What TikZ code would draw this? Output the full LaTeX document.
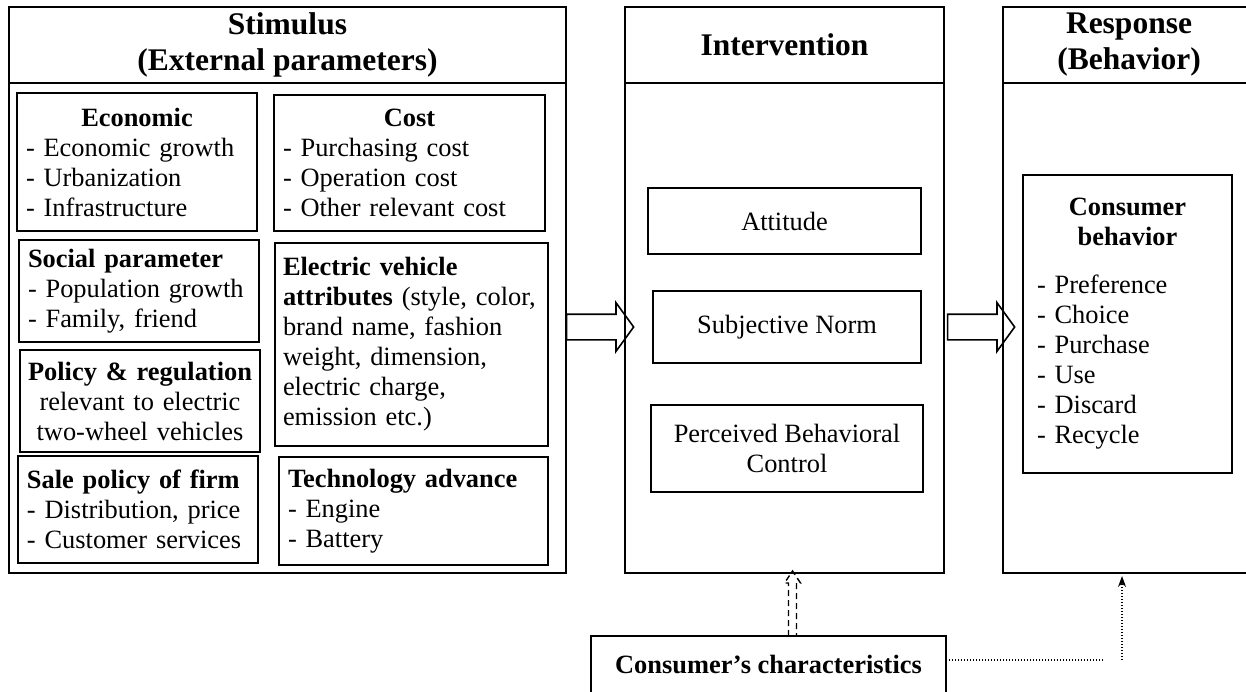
\documentclass[tikz,border=0pt]{standalone}
\usepackage{fontspec}
\setmainfont{Liberation Serif}
\usetikzlibrary{positioning, shapes.arrows, calc, arrows.meta}
\tikzstyle{stagebox} = [rectangle, draw=black, line width=2.6pt, inner sep=0pt, outer sep=0pt]
\tikzstyle{boxtitle} = [font=\fontsize{31.5}{36}\selectfont\bfseries, align=center]
\tikzstyle{factorbox} = [rectangle, draw=black, line width=1.6pt, inner xsep=9pt, inner ysep=0pt, align=left]
\tikzstyle{construct} = [rectangle, draw=black, line width=1.6pt, inner sep=0pt, align=center]
\tikzstyle{blockarrow} = [single arrow, draw=black, line width=1.6pt, inner sep=0pt, minimum height=67pt, single arrow head extend=11.5pt, single arrow tip angle=108]
\tikzstyle{dashline} = [line width=1.4pt, dash pattern=on 6pt off 4pt]
\tikzstyle{dotline} = [line width=1.4pt, dash pattern=on 1.4pt off 1.6pt]
\tikzstyle{every node}=[font=\fontsize{26.4}{30}\selectfont]
\newcommand{\midline}[1]{\leavevmode\hskip 0pt plus 1filll #1\hskip 0pt plus 1filll\null}

\begin{document}
\begin{tikzpicture}[x=1pt, y=-1pt]
	\path[fill=white, use as bounding box] (0,0) rectangle (1246,691);
	% stimulus
	\node (stim) [stagebox, minimum width=557pt, minimum height=566pt] at (287.5,290) {};
	\node (stimhead) [stagebox, boxtitle, minimum width=557pt, minimum height=76pt, anchor=north] at (stim.north) {Stimulus\\(External parameters)};
	\node (econ) [factorbox, text width=222pt, minimum height=138pt] at (137,162) {\midline{\textbf{Economic}}\\- Economic growth\\- Urbanization\\- Infrastructure};
	\node (cost) [factorbox, text width=253pt, minimum height=136pt] at (409.5,163) {\midline{\textbf{Cost}}\\- Purchasing cost\\- Operation cost\\- Other relevant cost};
	\node (social) [factorbox, text width=222pt, minimum height=102pt] at (139,291) {\textbf{Social parameter}\\- Population growth\\- Family, friend};
	\node (evattr) [factorbox, inner xsep=8pt, text width=257pt, minimum height=203pt] at (411.5,344.5) {\textbf{Electric vehicle}\\\textbf{attributes} (style, color,\\brand name, fashion\\weight, dimension,\\electric charge,\\emission etc.)};
	\node (policy) [factorbox, align=center, inner xsep=4pt, text width=232pt, minimum height=102pt] at (140,401) {\textbf{Policy \& regulation}\\relevant to electric\\two-wheel vehicles};
	\node (sale) [factorbox, text width=222pt, minimum height=107pt] at (138,509.5) {\textbf{Sale policy of firm}\\- Distribution, price\\- Customer services};
	\node (tech) [factorbox, text width=251pt, minimum height=108pt] at (413.5,511) {\textbf{Technology advance}\\- Engine\\- Battery};
	% intervention
	\node (inter) [stagebox, minimum width=319pt, minimum height=566pt] at (784.5,290) {};
	\node (interhead) [stagebox, boxtitle, minimum width=319pt, minimum height=76pt, anchor=north] at (inter.north) {Intervention};
	\node (att) [construct, minimum width=273pt, minimum height=66pt] at (784.5,221) {Attitude};
	\node (subj) [construct, minimum width=268pt, minimum height=72pt] at (787,327) {Subjective Norm};
	\node (pbc) [construct, minimum width=272pt, minimum height=87pt] at (787,448.5) {Perceived Behavioral\\Control};
	% response
	\node (resp) [stagebox, minimum width=252pt, minimum height=566pt] at (1129,290) {};
	\node (resphead) [stagebox, boxtitle, minimum width=252pt, minimum height=76pt, anchor=north] at (resp.north) {Response\\(Behavior)};
	\node (cbeh) [factorbox, inner xsep=14pt, text width=181pt, minimum height=298pt] at (1127.5,324) {\midline{\textbf{Consumer}}\\\midline{\textbf{behavior}}\\[18pt]- Preference\\- Choice\\- Purchase\\- Use\\- Discard\\- Recycle};
	% consumer characteristics
	\node (cons) [stagebox, line width=2pt, font=\fontsize{26.4}{30}\selectfont\bfseries, minimum width=355pt, minimum height=57pt] at (768.5,664.5) {Consumer’s characteristics};
	\node (arr1) [blockarrow] at ($(stim.east |- subj)!0.5!(inter.west |- subj)$) {\rule{0pt}{24pt}};
	\node (arr2) [blockarrow, xshift=3pt] at ($(inter.east |- subj)!0.5!(resp.west |- subj)$) {\rule{0pt}{24pt}};
	\draw [dashline] (788.5,636) -- (788.5,583) -- (784.5,583) -- (792.5,571) -- (800.5,583) -- (796.5,583) -- (796.5,636);
	\coordinate (dotend) at (1104,660);
	\coordinate (dotstart) at (1122,660);
	\draw [dotline] (cons.east |- dotend) -- (dotend);
	\draw [dotline, -{Stealth[length=11pt,width=8pt]}] (dotstart) -- ($(dotstart |- resp.south)+(0,3)$);
\end{tikzpicture}
\end{document}
